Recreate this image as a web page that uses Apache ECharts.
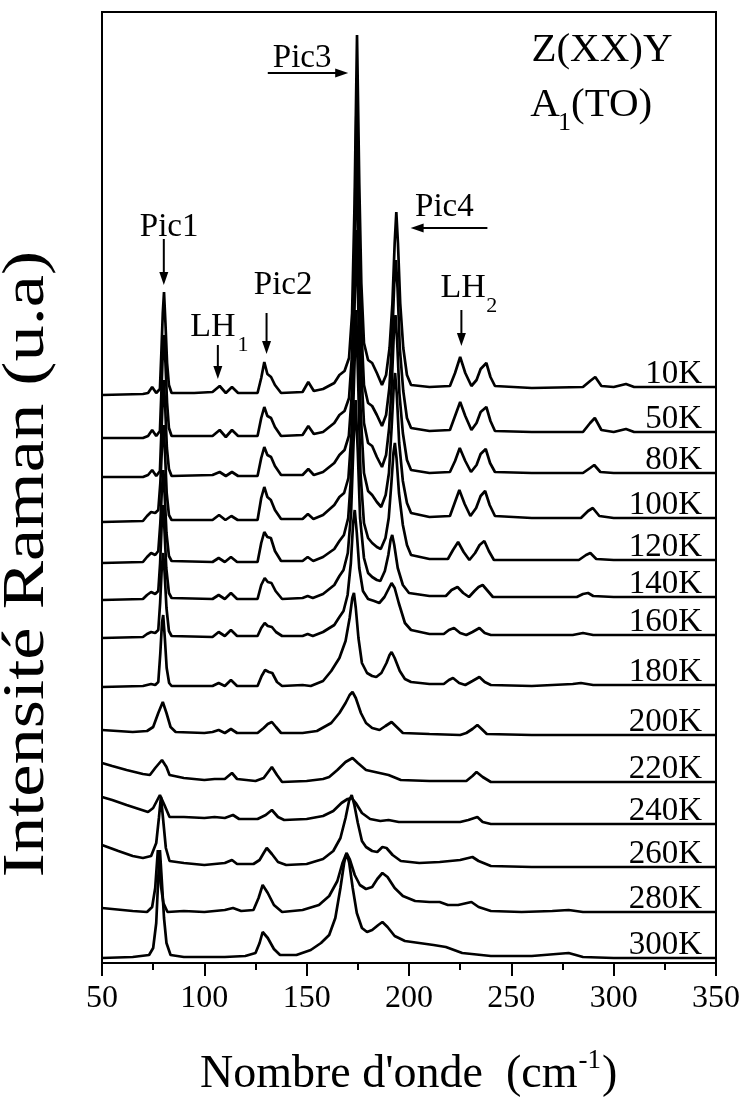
<!DOCTYPE html>
<html><head><meta charset="utf-8">
<script src="https://cdn.jsdelivr.net/npm/echarts/dist/echarts.min.js"></script>
<style>html,body{margin:0;padding:0;background:#fff}#c{width:744px;height:1099px}</style>
</head><body><div id="c"></div>
<script>
// ---- data (x: wavenumber cm-1, y: Raman intensity, arbitrary units incl. vertical stacking offset)
const temperatures = ['10K','50K','80K','100K','120K','140K','160K','180K','200K','220K','240K','260K','280K','300K'];
const xTicks = [50,100,150,200,250,300,350];

const s10K = [[50,568],[70,569],[72.5,570],[74.5,576],[76.5,570],[78.3,574],[79,610],[79.7,650],[80.3,671],[81,640],[81.8,600],[82.7,578],[84,570],[95,570],[104,571],[107.5,577],[110.5,570],[113.5,576],[116.5,570],[126,570],[127.8,585],[129.3,601],[130.8,589],[132.6,586],[134.5,578],[137.5,570],[148,571],[150.8,581],[153.5,572],[158,574],[163.5,580],[166,588],[168.5,592],[170.7,605],[172.2,650],[173.4,760],[174.6,928],[175.7,780],[176.7,680],[178,620],[180,603],[182,600],[184.3,590],[186.8,578],[188.8,588],[190.5,615],[191.9,660],[193,720],[193.8,751],[194.6,720],[195.7,660],[197.2,615],[199,588],[201,578],[210,576],[220,577],[222.5,590],[225,606],[227.5,590],[230.5,577],[233,583],[235,594],[237.8,600],[239.8,586],[242,577],[260,575],[285,576],[288.5,582],[291,586],[294,577],[300,576],[306,579],[310,576],[330,576],[350,576]];
const s50K = [[50,525],[70,525],[72.5,527],[74.5,533],[76.5,527],[78.3,532],[79,570],[79.7,610],[80.3,628],[81,600],[81.8,560],[82.7,535],[84,527],[104,527],[107.5,533],[110.5,526],[113.5,533],[116.5,527],[126,527],[127.8,545],[129.3,556],[130.8,547],[132.6,545],[134.5,536],[137.5,527],[148,528],[150.8,537],[153.5,529],[158,531],[163.5,540],[166,548],[168.5,552],[170.7,565],[172.2,610],[173.4,720],[174.5,883],[175.6,740],[176.6,640],[178,578],[180,560],[182,557],[184.3,548],[186.8,537],[188.8,548],[190.4,575],[191.7,620],[192.8,680],[193.6,703],[194.4,675],[195.5,615],[197.2,572],[199,545],[201,535],[210,532],[220,533],[222.5,547],[225,561],[227.5,547],[230.5,533],[233,540],[235,551],[237.8,556],[239.8,542],[242,532],[260,531],[285,531],[288.5,540],[290.8,545],[294,533],[300,531],[306,534],[310,531],[350,531]];
const s80K = [[50,486],[70,486],[72.5,488],[74.5,493],[76.5,487],[78.3,492],[79,530],[79.7,565],[80.2,583],[80.9,555],[81.7,515],[82.7,494],[84,487],[104,488],[107.5,491],[110.5,487],[113.5,491],[116.5,487],[126,487],[127.8,505],[129.3,516],[130.8,508],[132.6,506],[134.5,497],[137.5,488],[148,488],[150.8,494],[153.5,488],[158,491],[163.5,500],[166,508],[168.5,513],[170.6,527],[172.1,570],[173.3,680],[174.4,823],[175.5,700],[176.5,600],[178,540],[180,520],[182,517],[184.3,506],[186.8,496],[188.8,508],[190.3,535],[191.6,580],[192.6,630],[193.4,648],[194.2,622],[195.3,570],[197,530],[199,503],[201,493],[210,490],[220,491],[222.5,502],[224.8,515],[227.5,502],[230.3,491],[233,498],[235,509],[237.5,514],[239.6,500],[242,491],[260,490],[285,490],[288.5,495],[290.5,498],[293.5,491],[300,490],[350,490]];
const s100K = [[50,441],[70,442],[72,447],[74,451],[76,450],[77.5,453],[78.5,480],[79.4,520],[80.1,538],[80.8,510],[81.6,470],[82.7,448],[84,443],[104,443],[107.2,448],[110.3,443],[113.2,447],[116.3,443],[126,443],[127.8,465],[129.3,476],[130.8,466],[132.5,463],[134.5,453],[137.5,444],[148,444],[150.6,449],[153.3,444],[158,448],[163.5,458],[166,466],[168.3,470],[170.4,485],[171.9,530],[173.2,640],[174.3,733],[175.4,640],[176.4,550],[178,490],[180,472],[182,468],[184.3,461],[186.4,456],[188.6,468],[190.2,490],[191.5,535],[192.5,575],[193.2,590],[194,570],[195.2,520],[197,482],[199,460],[201,450],[210,446],[220,447],[222.3,460],[224.6,473],[227.2,459],[230,447],[232.8,455],[235,467],[237.2,472],[239.4,458],[242,447],[260,445],[284,445],[287.5,452],[289.8,455],[293,447],[300,445],[350,445]];
const s120K = [[50,400],[70,401],[72,406],[74,410],[76,408],[77.5,412],[78.5,440],[79.3,475],[80,493],[80.7,465],[81.5,430],[82.7,407],[84,402],[104,401],[107,405],[110,401],[113,406],[116,401],[126,401],[127.8,420],[129.3,431],[130.8,426],[132.5,425],[134.5,412],[137.5,402],[148,402],[150.5,406],[153.2,402],[158,406],[163.5,414],[166,422],[168.2,428],[170.3,445],[171.8,490],[173.1,580],[174.2,653],[175.3,570],[176.3,490],[178,440],[180,425],[182,420],[184.3,416],[186.2,414],[188.5,425],[190.1,445],[191.4,480],[192.4,510],[193.1,520],[193.9,505],[195.1,470],[197,438],[199,418],[201,408],[210,404],[219,404],[221.5,413],[224,421],[226.7,411],[229.5,403],[232.3,410],[234.5,418],[236.8,422],[239,412],[241.5,403],[260,403],[283,403],[286.5,408],[288.6,410],[291.5,404],[300,403],[350,403]];
const s140K = [[50,363],[70,364],[72,368],[74,371],[76,369],[77.5,372],[78.4,400],[79.2,440],[79.9,458],[80.6,430],[81.4,395],[82.7,370],[84,365],[104,364],[107,368],[110,364],[113,370],[116,364],[126,364],[127.8,378],[129.5,385],[131,381],[132.8,380],[134.8,372],[138,364],[148,365],[150.5,367],[153,365],[158,369],[163.5,378],[166,387],[168,393],[170.1,410],[171.7,450],[172.9,520],[173.9,563],[175,510],[176.1,445],[178,405],[180,390],[182,386],[184.3,383],[186,382],[188.2,392],[189.9,408],[191,423],[191.8,428],[192.8,418],[194.5,395],[197,378],[200,370],[210,367],[218,367],[220.8,373],[223.7,376],[226.5,370],[229.3,366],[232,372],[234,376],[236,378],[238.5,372],[241,366],[260,366],[282,366],[285,369],[287.5,370],[290,367],[300,366],[350,366]];
const s160K = [[50,325],[70,326],[72,329],[74,331],[76,330],[77.5,333],[78.4,360],[79.2,395],[79.9,410],[80.6,390],[81.5,355],[82.7,332],[84,327],[104,326],[107,331],[110,327],[113,333],[116,327],[126,327],[127.8,335],[129.5,340],[131,337],[133,336],[135,331],[138,327],[148,327],[150.5,329],[153,327],[158,331],[163.5,338],[166,346],[168,352],[170,368],[171.6,400],[172.7,440],[173.5,453],[174.5,430],[175.7,395],[177.5,372],[180,364],[183,362],[185.5,360],[188,366],[190,374],[191.5,380],[193,375],[195,360],[198,340],[201,333],[210,329],[217,329],[219.5,333],[222,335],[225,330],[228,328],[231,331],[234.4,335],[237,330],[240,328],[260,328],[280,328],[285,330],[290,328],[350,328]];
const s180K = [[50,276],[70,277],[72,278],[74,279],[76,278],[77.5,281],[78.5,310],[79.3,340],[79.9,348],[80.7,325],[81.6,295],[82.8,280],[84,277],[104,277],[107,280],[110,277],[113,283],[116,277],[126,277],[128,287],[129.7,293],[131.5,291],[133.2,290],[135.5,281],[138,277],[148,278],[152,277],[158,282],[162,292],[166,305],[169,322],[171,345],[172.3,365],[173.1,370],[174,355],[175.3,325],[177,300],[179.5,290],[182,287],[184,286],[186.5,290],[189,300],[190.5,308],[191.5,311],[193,305],[195.5,292],[198,284],[201,281],[210,279],[217,279],[219.5,283],[221.5,285],[224.5,280],[227.5,278],[231,282],[234.4,286],[237,281],[240,278],[260,277],[280,279],[284,280],[290,278],[350,278]];
const s200K = [[50,233],[65,231],[72,232],[75,236],[77.5,250],[79.7,261],[81.5,250],[83.5,236],[86,231],[100,230],[104,231],[107,233],[110,230],[113,234],[116,230],[126,230],[129,235],[131,239],[133,241],[135,236],[137.5,230],[148,230],[155,232],[162,240],[166,250],[169,260],[171,268],[172.4,271],[174,265],[176.5,250],[179,240],[182,235],[185.6,233],[188.5,237],[191.5,241],[194,236],[197,230],[210,229],[225,228],[228,230],[231,234],[233.4,238],[235.5,234],[238,229],[260,228],[300,228],[350,228]];
const s220K = [[50,200],[55,197],[62,193],[70,189],[73.4,188],[76,195],[79.3,203],[81.5,196],[83,188],[90,185],[100,183],[105,184],[110,184],[113.5,190],[116,184],[125,182],[129,185],[133,196],[135.5,188],[138,181],[150,182],[158,184],[161,186],[165,193],[169,201],[172.4,205],[175,200],[179,193],[185.6,190],[190,188],[196,183],[210,182],[228,182],[231,187],[233,191],[236,186],[240,181],[260,181],[300,181],[350,181]];
const s240K = [[50,166],[55,163],[62,158],[68,154],[72.5,151],[75,155],[78.3,168],[80.5,158],[83,146],[90,146],[100,145],[105,146],[110,145],[114,148],[117,144],[126,144],[130,148],[133,153],[136,146],[139,143],[150,144],[158,147],[163,152],[167,160],[170,164],[172,165],[174,160],[177,150],[181,144],[186,142],[190,143],[195,141],[210,141],[225,141],[229,143],[233.4,146],[236,141],[240,139],[260,139],[300,139],[350,139]];
const s260K = [[50,118],[58,112],[65,107],[70,105],[74,107],[76.5,120],[77.8,145],[78.8,166],[79.8,145],[81.2,115],[83,102],[90,100],[100,98],[105,99],[110,100],[113.5,103],[116,99],[124,99],[127,103],[129,110],[130.5,115],[133,109],[136,101],[140,98],[150,99],[158,104],[163,112],[166.5,125],[169,145],[170.7,162],[172,168],[173.3,158],[175,140],[177,122],[179,116],[182,112],[184.5,111],[187,116],[189,115],[192,108],[196,102],[205,100],[215,101],[225,103],[229,105],[231,106],[234,102],[240,97],[260,96],[300,96],[350,96]];
const s280K = [[50,55],[65,52],[72,51],[74.5,56],[76,75],[77.3,113],[78.6,80],[80,60],[82,51],[90,52],[100,51],[110,53],[114,55],[118,52],[124,53],[126.5,65],[128.5,78],[131,70],[134,58],[138,51],[148,53],[156,58],[161,67],[165,82],[167.5,100],[169.5,110],[171,104],[173.5,88],[176,78],[179,74],[182,76],[184.5,84],[187,90],[189.5,86],[193,75],[197,67],[203,62],[210,61],[215,61],[219,58],[224,58],[230.5,61],[234,56],[240,52],[255,51],[270,52],[278,53],[285,51],[300,51],[350,51]];
const s300K = [[50,5],[65,6],[73,8],[75,15],[76.5,40],[77.6,90],[78.3,113],[79,90],[80.3,45],[81.5,20],[83.5,8],[90,6],[100,6],[110,6],[120,7],[125,10],[127,20],[128.5,31],[131,25],[134,14],[137,8],[145,8],[152,13],[157,20],[161,28],[164,45],[166.5,75],[168.3,100],[169.5,110],[170.8,100],[172.5,75],[174.5,50],[177,35],[179.5,31],[182,33],[185,38],[187,41],[189.5,36],[193,27],[198,22],[205,20],[212,18],[218,16],[222,13],[226,10],[240,7],[260,7],[278,10],[285,6],[300,5],[350,5]];

const spectra = [s10K,s50K,s80K,s100K,s120K,s140K,s160K,s180K,s200K,s220K,s240K,s260K,s280K,s300K];

// ---- chart
const FONT = '"Liberation Serif","Times New Roman",serif';
const chart = echarts.init(document.getElementById('c'), null, {renderer:'canvas'});
const series = spectra.map((d,i)=>({
  name: temperatures[i], type:'line', data:d, showSymbol:false, symbol:'none',
  lineStyle:{color:'#000', width:2.7}, silent:true, clip:true, z:2
}));
chart.setOption({
  animation:false,
  backgroundColor:'#fff',
  grid:{left:102, right:28, top:12, bottom:136, show:true, borderColor:'#000', borderWidth:2, backgroundColor:'transparent'},
  xAxis:{type:'value', min:xTicks[0], max:xTicks[xTicks.length-1], interval:50,
    axisLine:{show:true, onZero:false, lineStyle:{color:'#000', width:2}},
    axisTick:{show:true, inside:false, length:13, lineStyle:{color:'#000', width:2}},
    minorTick:{show:true, splitNumber:2, length:7, lineStyle:{color:'#000', width:2}},
    axisLabel:{color:'#000', fontFamily:FONT, fontSize:32, margin:20},
    splitLine:{show:false}},
  yAxis:{type:'value', min:0, max:951, axisLine:{show:true, lineStyle:{color:'#000', width:2}},
    axisTick:{show:false}, axisLabel:{show:false}, splitLine:{show:false}},
  series: series
});

// ---- annotations (positions in data coordinates, converted through the axes)
const px = (v,h)=>chart.convertToPixel({xAxisIndex:0, yAxisIndex:0}, [v,h]);
const cnv = document.createElement('canvas').getContext('2d');
function measure(s, size){ cnv.font = size+'px '+FONT; return cnv.measureText(s).width; }
function txt(x, yBase, s, size, align){
  return {type:'text', x:x, y:yBase - 0.305*size, z:10, silent:true,
    style:{text:s, font:size+'px '+FONT, fill:'#000', textAlign:align||'left', align:align||'left',
      textVerticalAlign:'middle', verticalAlign:'middle'}};
}
function arrow(p0, p1){
  const dx=p1[0]-p0[0], dy=p1[1]-p0[1], L=Math.hypot(dx,dy), ux=dx/L, uy=dy/L;
  const hl=13, hw=4.5, bx=p1[0]-ux*hl, by=p1[1]-uy*hl;
  return [{type:'line', z:10, silent:true, shape:{x1:p0[0],y1:p0[1],x2:bx+ux*2,y2:by+uy*2}, style:{stroke:'#000',lineWidth:2}},
          {type:'polygon', z:10, silent:true, shape:{points:[[p1[0],p1[1]],[bx-uy*hw,by+ux*hw],[bx+uy*hw,by-ux*hw]]}, style:{fill:'#000'}}];
}
const g = [];
// temperature labels, right-aligned just above each trace's right end
spectra.forEach((d,i)=>{
  const last = d[d.length-1];
  const p = px(343.2, last[1]+3);
  g.push(txt(p[0], p[1], temperatures[i], 33, 'right'));
});
// peak labels
let p;
p = px(82.8, 726); g.push(txt(p[0], p[1], 'Pic1', 33, 'center'));
g.push(...arrow(px(80.2, 724), px(80.2, 678)));
p = px(138.5, 668); g.push(txt(p[0], p[1], 'Pic2', 33, 'center'));
g.push(...arrow(px(130.4, 650), px(130.4, 609)));
p = px(147.8, 895); g.push(txt(p[0], p[1], 'Pic3', 33, 'center'));
g.push(...arrow(px(131, 890), px(170.3, 890)));
p = px(217.3, 746); g.push(txt(p[0], p[1], 'Pic4', 33, 'center'));
g.push(...arrow(px(238.3, 735), px(200.8, 735)));
p = px(115.3, 626); g.push(txt(p[0], p[1], 'LH', 34, 'right'));
p = px(116.2, 611); g.push(txt(p[0], p[1], '1', 22, 'left'));
g.push(...arrow(px(106.6, 618), px(106.6, 584)));
p = px(237.5, 665); g.push(txt(p[0], p[1], 'LH', 34, 'right'));
p = px(237.8, 650); g.push(txt(p[0], p[1], '2', 22, 'left'));
g.push(...arrow(px(225.6, 653), px(225.6, 617)));
// scattering geometry
p = px(259.8, 900); g.push(txt(p[0], p[1], 'Z(XX)Y', 41, 'left'));
p = px(259.3, 845);
{ const wA = measure('A', 41); g.push(txt(p[0], p[1], 'A', 41, 'left'));
  g.push(txt(p[0]+wA-2, p[1]+13, '1', 26, 'left'));
  g.push(txt(p[0]+wA+11, p[1], '(TO)', 41, 'left')); }
// axis titles
{ const s1 = "Nombre d'onde  (cm", fs = 46, w1 = measure(s1, fs), w2 = measure('-1', 27), x0 = 200, yb = 1089;
  g.push(txt(x0, yb, s1, fs, 'left'));
  g.push(txt(x0+w1+1, yb-20, '-1', 27, 'left'));
  g.push(txt(x0+w1+w2+2, yb, ')', fs, 'left')); }
g.push({type:'text', x:28, y:564, rotation:Math.PI/2, scaleX:1.17, scaleY:0.95, z:10, silent:true,
  style:{text:'Intensité Raman (u.a)', font:'62px '+FONT, fill:'#000', textAlign:'center', align:'center', textVerticalAlign:'middle', verticalAlign:'middle'}});
chart.setOption({graphic:{elements:g}});
</script>
</body></html>
